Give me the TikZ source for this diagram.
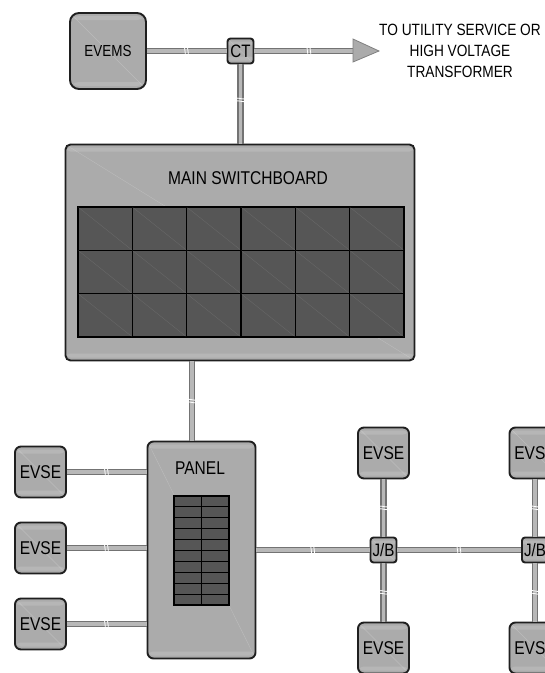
\documentclass[tikz,border=0pt]{standalone}
\usepackage{fontspec}
\setmainfont[FakeStretch=0.84]{Liberation Sans}
\usepackage{tikz}
\definecolor{boxgray}{HTML}{ABABAB}
\definecolor{cellgray}{HTML}{565656}
\tikzset{
  unitbox/.style = {draw=black!88, line width=1.9pt, fill=boxgray, text=black, rounded corners=#1,
    path picture={
      \fill[white,opacity=.14] ([yshift=-3pt]path picture bounding box.north west) rectangle ([yshift=-7pt]path picture bounding box.north east);
      \fill[white,opacity=.14] ([yshift=3pt]path picture bounding box.south west) rectangle ([yshift=7pt]path picture bounding box.south east);
      \draw[white,opacity=.2,thin] (path picture bounding box.north west) -- (path picture bounding box.south east);
    }},
  unitbox/.default = 7pt,
  evsebox/.style = {unitbox=6pt, minimum width=51pt, minimum height=51pt, inner sep=0pt, font=\fontsize{18.5}{18.5}\selectfont},
  smallbox/.style = {unitbox=3pt, minimum width=26pt, minimum height=25pt, inner sep=0pt, font=\fontsize{18}{18}\selectfont},
  cable/.style = {draw=black!55, line width=1.6pt, double=black!28, double distance=3.4pt},
  cellbox/.style = {draw=black, line width=1.1pt, fill=cellgray},
  plainlabel/.style = {font=\fontsize{18.5}{18.5}\selectfont, text=black},
  brkline/.style = {white, line width=.8pt},
  brkv/.pic = {
    \draw[brkline] (-1.8,5) .. controls (-.5,2) and (-3,-2) .. (-1.8,-5);
    \draw[brkline] (1.2,5) .. controls (2.5,2) and (0,-2) .. (1.2,-5);
  },
  brkh/.pic = {
    \draw[brkline] (-5,-1.5) .. controls (-2,-3) and (2,0) .. (5,-1.5);
    \draw[brkline] (-5,1.2) .. controls (-2,-.3) and (2,2.7) .. (5,1.2);
  }
}

\begin{document}
\begin{tikzpicture}[x=1pt,y=-1pt]
  \clip (0,0) rectangle (545,673);
  % boxes first, so the cables can be run between their names
  \node[unitbox=9pt, minimum width=76pt, minimum height=76pt, inner sep=0pt, font=\fontsize{16}{16}\selectfont] (evems) at (108,51) {EVEMS};
  \node[smallbox] (ct) at (240.5,51) {CT};
  \node[unitbox=5pt, minimum width=349pt, minimum height=216pt] (mainboard) at (240,252.5) {};
  \node[unitbox=6pt, minimum width=108pt, minimum height=217pt] (panel) at (201.5,550) {};
  \node[evsebox] (evsea) at (40.5,472) {EVSE};
  \node[evsebox] (evseb) at (40.5,548) {EVSE};
  \node[evsebox] (evsec) at (40.5,624) {EVSE};
  \node[smallbox] (jba) at (383.5,550) {J/B};
  \node[smallbox] (jbb) at (535,550) {J/B};
  \node[evsebox] (evsed) at (383.5,453) {EVSE};
  \node[evsebox] (evsee) at (383.5,648) {EVSE};
  \node[evsebox] (evsef) at (535,453) {EVSE};
  \node[evsebox] (evseg) at (535,648) {EVSE};
  \node[plainlabel] (mainlabel) at (248,178) {MAIN SWITCHBOARD};
  \node[plainlabel] (panellabel) at (200,468) {PANEL};
  \node[plainlabel, align=center, font=\fontsize{16.3}{21}\selectfont] (feedlabel) at (460,51) {TO UTILITY SERVICE OR\\HIGH VOLTAGE\\TRANSFORMER};
  % breaker cells
  \foreach \i in {0,...,5}
    \foreach \j in {0,1,2}
      { \draw[cellbox] ({78+\i*54.33},{207+\j*43.33}) rectangle ({78+(\i+1)*54.33},{207+(\j+1)*43.33});
        \draw[white,opacity=.1,thin] ({78+\i*54.33},{207+\j*43.33}) -- ({78+(\i+1)*54.33},{207+(\j+1)*43.33}); }
  \foreach \i in {0,1}
    \foreach \j in {0,...,9}
      \draw[cellbox] ({174+\i*27.5},{496+\j*10.9}) rectangle ({174+(\i+1)*27.5},{496+(\j+1)*10.9});
  % cables
  \coordinate (feedend) at (354,51);
  \coordinate (paneltop) at (192,441);
  \draw[cable] (evems) -- pic[pos=.5]{brkv} (ct);
  \draw[cable] (ct) -- pic[pos=.55]{brkv} (feedend);
  \draw[cable] (ct) -- pic[pos=.45]{brkh} (mainboard.north -| ct);
  \draw[cable] (mainboard.south -| paneltop) -- pic[pos=.5]{brkh} (paneltop);
  \draw[cable] (evsea) -- pic[pos=.5]{brkv} (evsea -| panel.west);
  \draw[cable] (evseb) -- pic[pos=.5]{brkv} (evseb -| panel.west);
  \draw[cable] (evsec) -- pic[pos=.5]{brkv} (evsec -| panel.west);
  \draw[cable] (panel.east |- jba) -- pic[pos=.5]{brkv} (jba);
  \draw[cable] (jba) -- pic[pos=.5]{brkv} (jbb);
  \draw[cable] (evsed) -- pic[pos=.5]{brkh} (jba);
  \draw[cable] (jba) -- pic[pos=.5]{brkh} (evsee);
  \draw[cable] (evsef) -- pic[pos=.5]{brkh} (jbb);
  \draw[cable] (jbb) -- pic[pos=.5]{brkh} (evseg);
  % arrow head
  \draw[draw=black!50, fill=black!33, line width=.8pt] (feedend) ++(-1,-12) -- ++(26,12) -- ++(-26,11) -- cycle;
\end{tikzpicture}
\end{document}
